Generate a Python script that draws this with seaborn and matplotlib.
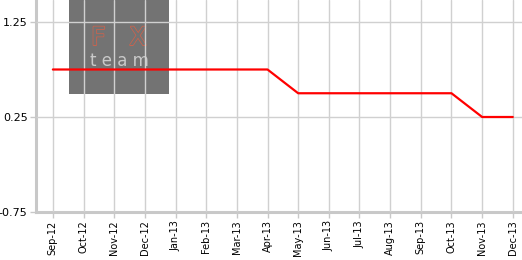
import matplotlib
matplotlib.use("Agg")
import matplotlib.pyplot as plt
import matplotlib.patheffects as pe
import seaborn as sns
import pandas as pd
from matplotlib.patches import Rectangle

months = ["Sep-12", "Oct-12", "Nov-12", "Dec-12", "Jan-13", "Feb-13", "Mar-13", "Apr-13",
          "May-13", "Jun-13", "Jul-13", "Aug-13", "Sep-13", "Oct-13", "Nov-13", "Dec-13"]
rate = [0.75, 0.75, 0.75, 0.75, 0.75, 0.75, 0.75, 0.75,
        0.50, 0.50, 0.50, 0.50, 0.50, 0.50, 0.25, 0.25]
yticks = [1.25, 0.25, -0.75]
ytick_labels = ["1.25", "0.25", "-0.75"]

df = pd.DataFrame({"idx": range(len(months)), "month": months, "rate": rate})

sns.set_theme(style="white")
plt.rcParams["font.family"] = ["DejaVu Sans"]

fig = plt.figure(figsize=(5.22, 2.60), dpi=100)
ax = fig.add_axes([36 / 522, 1 - 212 / 260, 1 - 36 / 522, 212 / 260])

# logo watermark (decoration), placed inside the axes so the data line draws over it
logo = Rectangle((69 / 522, 1 - 94 / 260), 100 / 522, 94 / 260,
                 transform=fig.transFigure, facecolor="#737373",
                 edgecolor="none", zorder=0.5, clip_on=False)
ax.add_patch(logo)
fx = ax.text(119 / 522, 1 - 45 / 260, "F   X", transform=fig.transFigure,
             ha="center", va="baseline", fontsize=18, color="#737373", zorder=0.6)
fx.set_path_effects([pe.withStroke(linewidth=1.4, foreground="#c8644f"), pe.Normal()])
ax.text(119 / 522, 1 - 52 / 260, "t e a m", transform=fig.transFigure,
        ha="center", va="top", fontsize=12, color="#c9c9c9", zorder=0.6)

sns.lineplot(data=df, x="idx", y="rate", ax=ax, color="#ff0000", linewidth=1.6, zorder=3)

ax.set_xlim(-0.55, 15.3)
ax.set_ylim(-0.75, 1.25 + 22 / 95)
ax.set_xticks(df["idx"])
ax.set_xticklabels(months, rotation=90, fontsize=7, color="#000000")
ax.set_yticks(yticks)
ax.set_yticklabels(ytick_labels, fontsize=8, color="#000000")
ax.set_xlabel("")
ax.set_ylabel("")

ax.grid(True, color="#d0d0d0", linewidth=1.0)
ax.set_axisbelow(False)
for gl in ax.get_xgridlines() + ax.get_ygridlines():
    gl.set_zorder(1)

for s in ["top", "right"]:
    ax.spines[s].set_visible(False)
for s in ["left", "bottom"]:
    ax.spines[s].set_color("#c8c8c8")
    ax.spines[s].set_linewidth(2.2)
    ax.spines[s].set_zorder(2)

ax.tick_params(axis="both", which="major", length=4, width=1, color="#c8c8c8",
               direction="out", pad=2, left=True, bottom=True)

fig.savefig("out.png", dpi=100)
